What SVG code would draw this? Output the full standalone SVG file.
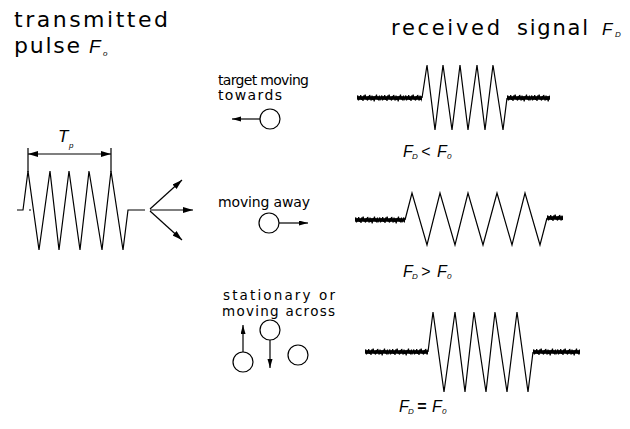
<svg xmlns="http://www.w3.org/2000/svg" width="630" height="429" viewBox="0 0 630 429">
<style>
.cad{font-family:"DejaVu Sans","Liberation Sans",sans-serif;fill:#000}
.it{font-family:"Liberation Sans",Arial,sans-serif;font-style:italic;fill:#000}
.ln{fill:none;stroke:#000;stroke-width:1.2;stroke-linejoin:miter}
.ar{fill:none;stroke:#000;stroke-width:1.2}
.circ{fill:#fff;stroke:#000;stroke-width:1.2}
</style>
<defs>
<marker id="ah" markerUnits="userSpaceOnUse" markerWidth="11" markerHeight="7" refX="10" refY="3" orient="auto-start-reverse">
<path d="M0,0 L10,3 L0,6 z" fill="#000"/>
</marker>
<marker id="ahs" markerUnits="userSpaceOnUse" markerWidth="10" markerHeight="6" refX="9" refY="2.5" orient="auto-start-reverse">
<path d="M0,0 L9,2.5 L0,5 z" fill="#000"/>
</marker>
<pattern id="noise" patternUnits="userSpaceOnUse" x="0" y="0" width="24" height="10">
<polyline fill="none" stroke="#000" stroke-width="1.2" points="0,5 0.8,2.5 1.5,7.5 2.2,3.5 3,6.5 3.7,2 4.5,7 5.2,3.5 6,8 6.7,2.5 7.5,6 8.2,1.5 9,6.5 9.7,4 10.5,7.5 11.2,3 12,6.5 12.7,2 13.5,5.5 14.2,7.5 15,2.5 15.7,7 16.5,3.5 17.2,8.5 18,3 18.7,6 19.5,1.5 20.2,6.5 21,3.5 21.7,7.5 22.5,2.5 23.2,6.5 24,5"/>
<rect x="0" y="3.3" width="24" height="3.4" fill="#000"/>
</pattern>
</defs>

<g id="titles">
<text class="cad" x="14" y="27" font-size="22" textLength="154">transmitted</text>
<text class="cad" x="14" y="53" font-size="22" textLength="66">pulse</text>
<text class="it" x="89" y="53" font-size="19">F</text>
<text class="it" x="103" y="56" font-size="8">o</text>
<text class="cad" x="391" y="35" font-size="21" textLength="109">received</text>
<text class="cad" x="517" y="35" font-size="21" textLength="71">signal</text>
<text class="it" x="602" y="35" font-size="17">F</text>
<text class="it" x="615" y="37" font-size="8">D</text>
</g>

<g id="transmitted-pulse">
<polyline class="ln" points="17,210 23,210 28,171 39,250 50,171 59,250 69,171 80,250 89,171 102,250 111,171 123,250 128,210 145,210"/>
<line class="ln" x1="29" y1="210" x2="31" y2="210"/>
<line class="ln" x1="28" y1="148" x2="28" y2="172"/>
<line class="ln" x1="111" y1="148" x2="111" y2="172"/>
<line class="ar" x1="28" y1="154" x2="111" y2="154" marker-start="url(#ah)" marker-end="url(#ah)"/>
<text class="it" x="58" y="142" font-size="17">T</text>
<text class="it" x="69" y="148" font-size="8">p</text>
</g>

<g id="connectors">
<line class="ar" x1="150" y1="209" x2="182" y2="180" marker-end="url(#ah)"/>
<line class="ar" x1="150" y1="210" x2="193" y2="210" marker-end="url(#ah)"/>
<line class="ar" x1="150" y1="211" x2="182" y2="240" marker-end="url(#ah)"/>
<line class="ar" x1="260" y1="119" x2="232" y2="119" marker-end="url(#ahs)"/>
<line class="ar" x1="279" y1="223" x2="308" y2="223" marker-end="url(#ahs)"/>
<line class="ar" x1="270" y1="340" x2="270" y2="368" marker-end="url(#ahs)"/>
<line class="ar" x1="243" y1="352" x2="243" y2="325" marker-end="url(#ahs)"/>
</g>

<g id="target-towards">
<text class="cad" x="218" y="85" font-size="14" textLength="91">target moving</text>
<text class="cad" x="218" y="100" font-size="14" textLength="64">towards</text>
<circle class="circ" cx="270" cy="119" r="10"/>
</g>

<g id="target-away">
<text class="cad" x="218" y="207" font-size="14" textLength="92">moving away</text>
<circle class="circ" cx="269" cy="223" r="10"/>
</g>

<g id="target-stationary">
<text class="cad" x="223" y="300" font-size="13.5" textLength="112">stationary or</text>
<text class="cad" x="222" y="316" font-size="13.5" textLength="113">moving across</text>
<circle class="circ" cx="270" cy="330" r="10"/>
<circle class="circ" cx="243" cy="362" r="10"/>
<circle class="circ" cx="298" cy="355" r="10"/>
</g>

<g id="signal-towards">
<rect transform="translate(357,93)" width="65" height="10" fill="url(#noise)"/>
<rect transform="translate(507,93)" width="43" height="10" fill="url(#noise)"/>
<polyline class="ln" points="422,98 427,65 435,130 443,65 452,130 460,65 468,130 477,65 485,130 493,65 503,130 507,98"/>
<text class="it" x="403" y="157" font-size="16">F</text>
<text class="it" x="412" y="159" font-size="8">D</text>
<text class="it" x="421" y="157" font-size="16">&lt;</text>
<text class="it" x="437" y="157" font-size="16">F</text>
<text class="it" x="447" y="159" font-size="8">0</text>
</g>

<g id="signal-away">
<rect transform="translate(355,215)" width="50" height="10" fill="url(#noise)"/>
<rect transform="translate(547,213)" width="16" height="10" fill="url(#noise)"/>
<polyline class="ln" points="405,220 412,193 427,245 440,193 455,245 468,193 483,245 497,193 512,245 525,193 540,245 547,218"/>
<text class="it" x="403" y="277" font-size="16">F</text>
<text class="it" x="412" y="279" font-size="8">D</text>
<text class="it" x="421" y="277" font-size="16">&gt;</text>
<text class="it" x="437" y="277" font-size="16">F</text>
<text class="it" x="447" y="279" font-size="8">0</text>
</g>

<g id="signal-stationary">
<rect transform="translate(365,347)" width="63" height="10" fill="url(#noise)"/>
<rect transform="translate(533,347)" width="47" height="10" fill="url(#noise)"/>
<polyline class="ln" points="428,352 433,312 444,392 455,312 465,392 474,312 486,392 495,312 507,392 517,312 528,392 533,352"/>
<text class="it" x="399" y="412" font-size="16">F</text>
<text class="it" x="408" y="414" font-size="8">D</text>
<text class="it" x="417" y="412" font-size="16" font-weight="bold">=</text>
<text class="it" x="432" y="412" font-size="16">F</text>
<text class="it" x="442" y="414" font-size="8">0</text>
</g>
</svg>
